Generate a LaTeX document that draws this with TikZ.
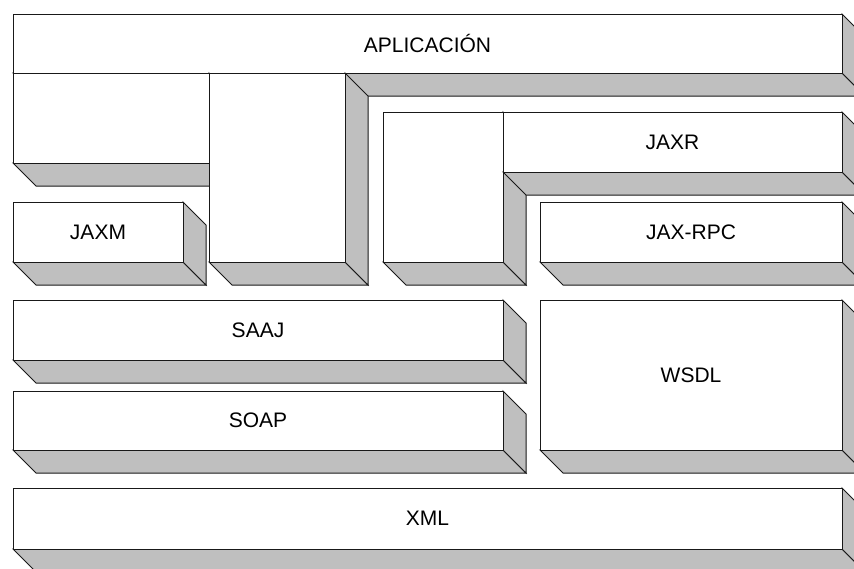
\documentclass[tikz,border=0pt]{standalone}
\usepackage{fontspec}
\setmainfont{Liberation Sans}
\definecolor{FaceClr}{rgb}{0.75,0.75,0.75}
\definecolor{EdgeClr}{rgb}{0.1,0.1,0.1}

\begin{document}
\begin{tikzpicture}[x=0.5pt,y=-0.5pt,
  face/.style={fill=FaceClr,draw=EdgeClr,line width=0.5pt,line join=miter},
  front/.style={fill=white,draw=EdgeClr,line width=0.5pt},
  lbl/.style={font=\fontsize{10.5}{12}\selectfont,inner sep=0pt}]
\useasboundingbox (0,0) rectangle (854,568);

% layers, back to front: x1/y1/x2/y2/name/text
\foreach \xa/\ya/\xb/\yb/\nm/\txt in {
  13/14/842/73/apl/APLICACIÓN,
  13/73/209/163/aplA/,
  209/73/345/262/aplB/,
  13/202/183/262/jaxm/JAXM,
  383/112/503/262/jaxrA/,
  503/112/842/172/jaxr/JAXR,
  540/202/842/262/rpc/JAX-RPC,
  13/300/503/360/saaj/SAAJ,
  13/391/503/450/soap/SOAP,
  540/300/842/450/wsdl/WSDL,
  13/488/842/549/xml/XML}{
  \draw[face] (\xa,\yb) -- (\xb,\yb) -- ({\xb+23},{\yb+23}) -- ({\xa+23},{\yb+23}) -- cycle;
  \draw[face] (\xb,\ya) -- ({\xb+23},{\ya+23}) -- ({\xb+23},{\yb+23}) -- (\xb,\yb) -- cycle;
  \draw[front] (\xa,\ya) rectangle (\xb,\yb);
  \node[lbl] (\nm) at ({(\xa+\xb)/2},{(\ya+\yb)/2}) {\txt};
}

\end{tikzpicture}
\end{document}
